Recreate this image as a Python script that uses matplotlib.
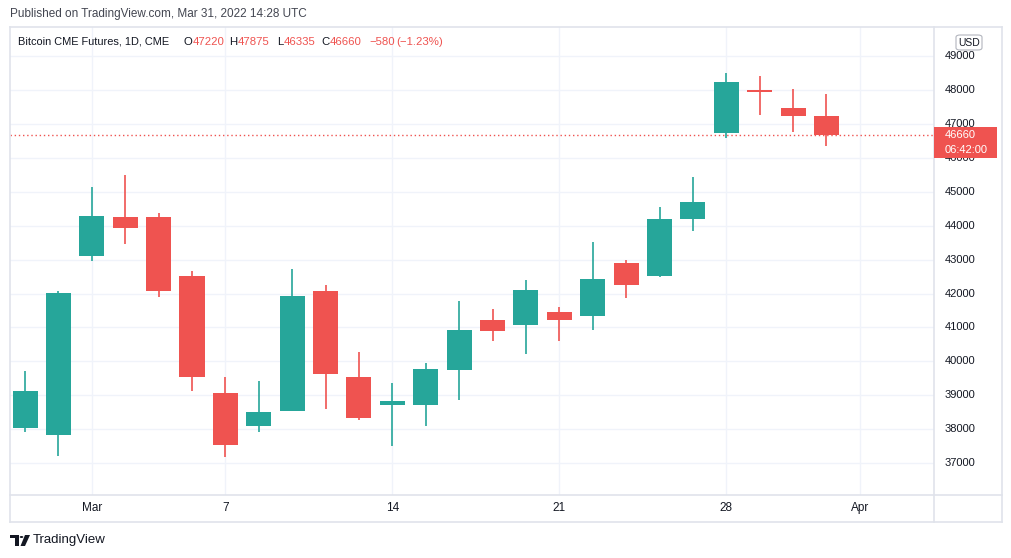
import numpy as np
import pandas as pd
import matplotlib
matplotlib.use('Agg')
import matplotlib.pyplot as plt
from matplotlib.patches import Rectangle, FancyBboxPatch, Polygon, Circle

# daily OHLC (CME weekdays only)
dates = ['2022-02-25', '2022-02-28', '2022-03-01', '2022-03-02', '2022-03-03',
         '2022-03-04', '2022-03-07', '2022-03-08', '2022-03-09', '2022-03-10',
         '2022-03-11', '2022-03-14', '2022-03-15', '2022-03-16', '2022-03-17',
         '2022-03-18', '2022-03-21', '2022-03-22', '2022-03-23', '2022-03-24',
         '2022-03-25', '2022-03-28', '2022-03-29', '2022-03-30', '2022-03-31']
opens = [38050, 37845, 43100, 44245, 44245, 42530, 39075, 38110, 38550, 42090,
         39550, 38720, 38730, 39735, 41225, 41065, 41465, 41330, 42915, 42515,
         44195, 46740, 47995, 47460, 47220]
highs = [39730, 42090, 45130, 45485, 44370, 42660, 39550, 39430, 42735, 42265,
         40290, 39370, 39960, 41790, 41550, 42385, 41610, 43510, 42995, 44540,
         45425, 48500, 48405, 48025, 47875]
lows = [37915, 37225, 42950, 43455, 41890, 39115, 37195, 37935, 38530, 38585,
        38260, 37520, 38110, 38850, 40590, 40205, 40590, 40915, 41860, 42480,
        43840, 46590, 47265, 46760, 46335]
closes = [39135, 42030, 44275, 43930, 42070, 39555, 37550, 38515, 41940, 39615,
          38320, 38840, 39785, 40935, 40885, 42115, 41210, 42415, 42245, 44185,
          44690, 48230, 47945, 47235, 46660]

tick_dates = ['2022-03-01', '2022-03-07', '2022-03-14', '2022-03-21', '2022-03-28', '2022-04-01']
tick_labels = ['Mar', '7', '14', '21', '28', 'Apr']
price_ticks = list(range(37000, 50000, 1000))

last_price = 46660
countdown = '06:42:00'

GREEN = '#26a69a'
RED = '#ef5350'
GRID = '#f0f3fa'
BORDER = '#e0e3eb'
TEXT = '#131722'

plt.rcParams['font.family'] = ['Liberation Sans', 'DejaVu Sans']

W, H = 1012, 558
fig = plt.figure(figsize=(W / 100, H / 100), dpi=100)
fig.patch.set_facecolor('white')

def px(x, y):
    return x / W, 1 - y / H

# main price pane: x 10..934, y 27..495
l, b = px(10, 495)
ax = fig.add_axes([l, b, (934 - 10) / W, (495 - 27) / H])

days = pd.bdate_range('2022-02-25', '2022-04-01')
pos = {d.strftime('%Y-%m-%d'): i for i, d in enumerate(days)}
x = np.array([pos[d] for d in dates])

o = np.array(opens); h = np.array(highs); lo = np.array(lows); c = np.array(closes)
up = c >= o
cols = np.where(up, GREEN, RED)

ax.vlines(x, lo, h, colors=cols, linewidth=1.2, zorder=3)
body_bottom = np.minimum(o, c)
body_h = np.maximum(np.abs(c - o), 40)
ax.bar(x, body_h, bottom=body_bottom, width=0.75, color=cols, linewidth=0, zorder=4)

ax.set_xlim(-0.45, 27.22)
ax.set_ylim(36064, 49855)

ax.set_xticks([pos[d] for d in tick_dates])
ax.set_xticklabels([])
ax.set_yticks(price_ticks)
ax.grid(True, color=GRID, linewidth=1, zorder=0)
ax.tick_params(length=0, labelleft=False, labelright=False, labelbottom=False)
for s in ax.spines.values():
    s.set_visible(False)

# last price dotted line
ax.axhline(last_price, color=RED, linestyle=(0, (1, 2)), linewidth=1, zorder=2)

# frame lines
lines = [((10, 27), (1002, 27)), ((10, 522), (1002, 522)), ((10, 27), (10, 522)),
         ((1002, 27), (1002, 522)), ((934, 27), (934, 522)), ((10, 495), (1002, 495))]
for (x0, y0), (x1, y1) in lines:
    fx0, fy0 = px(x0, y0)
    fx1, fy1 = px(x1, y1)
    fig.add_artist(plt.Line2D([fx0, fx1], [fy0, fy1], color=BORDER, linewidth=1.2))

# price axis labels
y0, y1 = ax.get_ylim()
for p in price_ticks:
    fy = b + (p - y0) / (y1 - y0) * ((495 - 27) / H)
    fig.text(945 / W, fy, str(p), fontsize=8, color=TEXT, ha='left', va='center')

# time axis labels
x0l, x1l = ax.get_xlim()
for d, lab in zip(tick_dates, tick_labels):
    fx = l + (pos[d] - x0l) / (x1l - x0l) * ((934 - 10) / W)
    fig.text(fx, 1 - 508 / H, lab, fontsize=8.5, color=TEXT, ha='center', va='center')

# last price tag
tx, ty = px(934, 158)
fig.add_artist(Rectangle((tx, ty), 63 / W, 31 / H, transform=fig.transFigure,
                         facecolor=RED, edgecolor='none', zorder=5))
fig.text(945 / W, 1 - 135 / H, f'{last_price}', fontsize=8, color='white', va='center', zorder=6)
fig.text(945 / W, 1 - 150 / H, countdown, fontsize=8, color='white', va='center', zorder=6)

# USD badge
ux, uy = px(956, 50)
fig.add_artist(FancyBboxPatch((ux, uy), 26 / W, 15 / H, transform=fig.transFigure,
                              boxstyle='round,pad=0,rounding_size=0.004',
                              facecolor='white', edgecolor='#b2b5be', linewidth=0.8, zorder=6))
fig.text(969 / W, 1 - 42.5 / H, 'USD', fontsize=7.5, color=TEXT, ha='center', va='center', zorder=7)

# header
fig.text(10 / W, 1 - 14 / H, 'Published on TradingView.com, Mar 31, 2022 14:28 UTC',
         fontsize=8.5, color='#434651', va='center')
hy = 1 - 42 / H
fig.text(18 / W, hy, 'Bitcoin CME Futures, 1D, CME', fontsize=7.9, color=TEXT, va='center')
parts = [(183, 'O', TEXT), (193, '47220', RED), (229, 'H', TEXT), (238, '47875', RED),
         (277, 'L', TEXT), (284, '46335', RED), (321, 'C', TEXT), (330, '46660', RED),
         (369, '\u2212580', RED), (396, '(\u22121.23%)', RED)]
for xp, s, col in parts:
    fig.text(xp / W, hy, s, fontsize=8.2, color=col, va='center')

# footer logo (rough TV mark) and name
def poly(pts):
    fig.add_artist(Polygon([px(a, bb) for a, bb in pts], closed=True, transform=fig.transFigure,
                           facecolor=TEXT, edgecolor='none'))
poly([(10, 535), (19, 535), (19, 546), (15, 546), (15, 538), (10, 538)])
fig.add_artist(Circle(px(21.5, 537), 1.8 / W, transform=fig.transFigure, facecolor=TEXT, edgecolor='none'))
poly([(25, 535), (30, 535), (25, 546), (20.5, 546)])
fig.text(33 / W, 1 - 540 / H, 'TradingView', fontsize=9.5, color=TEXT, va='center')

fig.savefig('out.png', dpi=100, facecolor='white')
